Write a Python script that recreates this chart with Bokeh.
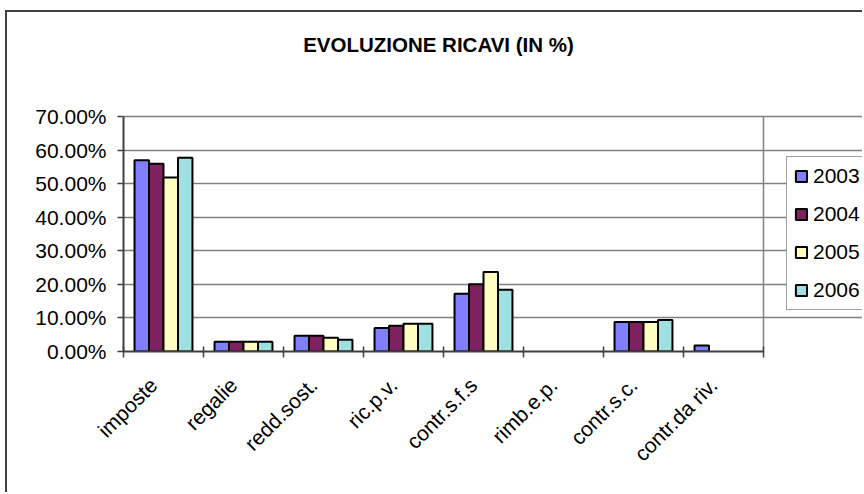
import math
import numpy as np
from bokeh.plotting import figure
from bokeh.models import (ColumnDataSource, FixedTicker, PrintfTickFormatter, Legend,
                          LegendItem, Range1d, Label)
from bokeh.transform import dodge
from bokeh.embed import file_html
from bokeh.resources import INLINE

# ---- data (percent) ----
categories = ["imposte", "regalie", "redd.sost.", "ric.p.v.", "contr.s.f.s",
              "rimb.e.p.", "contr.s.c.", "contr.da riv."]
years = ["2003", "2004", "2005", "2006"]
v2003 = [57.0, 2.9, 4.7, 7.0, 17.2, 0.0, 8.8, 1.8]
v2004 = [55.9, 2.9, 4.7, 7.7, 20.0, 0.0, 8.8, 0.0]
v2005 = [51.8, 2.9, 4.1, 8.3, 23.7, 0.0, 8.8, 0.0]
v2006 = [57.7, 2.9, 3.5, 8.3, 18.4, 0.0, 9.4, 0.0]
y_ticks = [0, 10, 20, 30, 40, 50, 60, 70]
y_max = 70
title_text = "EVOLUZIONE RICAVI (IN %)"

colors = ["#8080FF", "#802060", "#FFFFC0", "#A0E0E0"]
FONT = "Liberation Sans"

n = len(categories)
pos = (np.arange(n) + 0.5).tolist()
series = {"2003": v2003, "2004": v2004, "2005": v2005, "2006": v2006}
data = dict(pos=pos, cat=categories)
for yr, vals in series.items():
    data["y" + yr] = vals
    data["a" + yr] = [1.0 if v > 0 else 0.0 for v in vals]
source = ColumnDataSource(data)

# layout (pixels)
W, H = 862, 492
PL, PR, PT, PB = 123, 763, 116, 351   # plot-area box
# frame spans from PL to the right edge and from the top edge to PB,
# so that title and legend (drawn inside the frame) are not clipped
x_end = n * (W - PL) / (PR - PL)
y_end = y_max * PB / (PB - PT)

p = figure(width=W, height=H, output_backend="svg", toolbar_location=None,
           x_range=Range1d(0, x_end), y_range=Range1d(0, y_end))
p.min_border_left = PL
p.min_border_right = 0
p.min_border_top = 0
p.min_border_bottom = H - PB
p.border_fill_alpha = 0.0
p.background_fill_color = "white"
p.background_fill_alpha = 0.0
p.outline_line_color = None
p.styles = {
    "box-shadow": "inset 0 10px 0 0 white, inset 5px 0 0 0 white, "
                  "inset 0 12px 0 0 #404040, inset 7px 0 0 0 #404040",
    "background": "white",
}

# grid: horizontal lines across the plot area, plus right edge of plot area
p.ygrid.ticker = FixedTicker(ticks=y_ticks)
p.ygrid.bounds = (0, n)
p.ygrid.grid_line_color = "#808080"
p.ygrid.grid_line_width = 1.5
p.xgrid.grid_line_color = None
p.segment(x0=[n], y0=[0], x1=[n], y1=[y_max], line_color="#808080", line_width=1.5)

bw = 0.181
offsets = [-1.5 * bw, -0.5 * bw, 0.5 * bw, 1.5 * bw]
renderers = []
for yr, col, off in zip(years, colors, offsets):
    r = p.vbar(x=dodge("pos", off, range=p.x_range), top="y" + yr, width=bw, bottom=0,
               source=source, fill_color=col, line_color="black", line_width=2,
               line_alpha="a" + yr)
    renderers.append(r)

# axes
label_shift = 0.125
lab_pos = [q - label_shift for q in pos]
xa = p.xaxis[0]
xa.bounds = (0, n)
xa.ticker = FixedTicker(ticks=lab_pos, minor_ticks=list(range(n + 1)))
xa.major_label_overrides = {float(k): c for k, c in zip(lab_pos, categories)}
xa.major_tick_line_color = None
xa.minor_tick_line_color = "#404040"
xa.minor_tick_line_width = 1.5
xa.minor_tick_in = 5
xa.minor_tick_out = 6
xa.major_label_orientation = math.pi / 4
xa.major_label_text_font = FONT
xa.major_label_text_font_size = "21px"
xa.major_label_text_color = "black"
xa.major_label_standoff = 24
xa.axis_line_color = "#404040"
xa.axis_line_width = 2

ya = p.yaxis[0]
ya.bounds = (0, y_max)
ya.ticker = FixedTicker(ticks=y_ticks)
ya.formatter = PrintfTickFormatter(format="%.2f%%")
ya.major_tick_in = 0
ya.major_tick_out = 6
ya.major_tick_line_color = "#404040"
ya.major_tick_line_width = 1.5
ya.minor_tick_line_color = None
ya.major_label_text_font = FONT
ya.major_label_text_font_size = "21px"
ya.major_label_text_color = "black"
ya.major_label_standoff = 11
ya.axis_line_color = "#404040"
ya.axis_line_width = 2

# title (inside the extended frame)
p.add_layout(Label(x=438 - PL, y=PB - 44, x_units="screen", y_units="screen",
                   text=title_text, text_font=FONT, text_font_size="20.5px",
                   text_font_style="bold", text_align="center",
                   text_baseline="middle", text_color="black"))

legend = Legend(items=[LegendItem(label=yr, renderers=[r]) for yr, r in zip(years, renderers)],
                location=(786 - PL, PB - 310))
legend.label_text_font = FONT
legend.label_text_font_size = "21px"
legend.label_text_color = "black"
legend.glyph_width = 14
legend.glyph_height = 14
legend.label_height = 24
legend.spacing = 14
legend.padding = 7
legend.label_standoff = 5
legend.margin = 0
legend.border_line_color = "#404040"
legend.border_line_width = 1.5
legend.background_fill_color = "white"
legend.background_fill_alpha = 1.0
p.add_layout(legend)

open("out.html", "w").write(file_html(p, INLINE))
